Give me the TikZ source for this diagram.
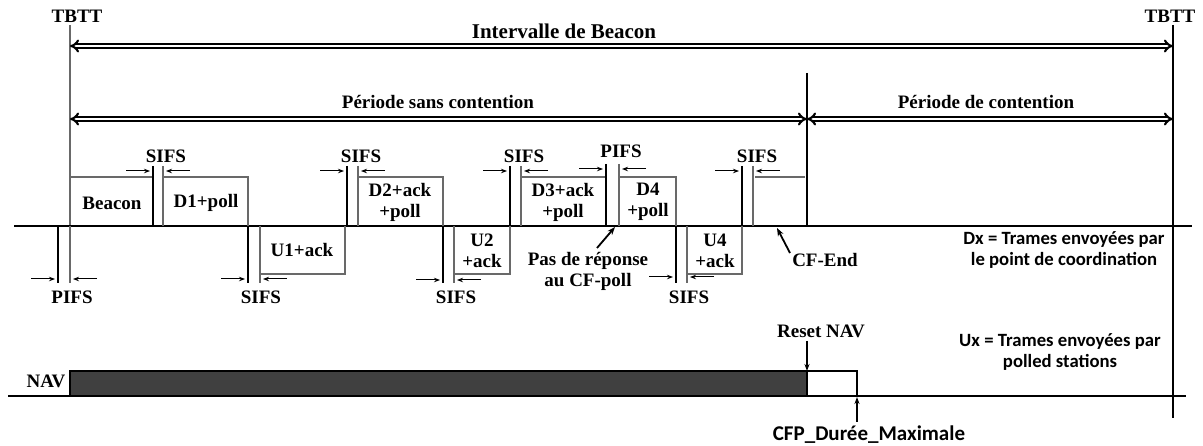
\documentclass[tikz,border=0pt]{standalone}
\usepackage{fontspec}
\setmainfont{Liberation Serif}
\newfontfamily\calib{Carlito}
\usetikzlibrary{arrows.meta}
\definecolor{boxgray}{RGB}{105,105,105}
\definecolor{navfill}{RGB}{64,64,64}
\begin{document}
\begin{tikzpicture}[x=1pt,y=-1pt,
  lbl/.style={font=\fontsize{19}{21}\selectfont\bfseries, inner sep=0pt, align=center},
  biglbl/.style={font=\fontsize{21}{24}\selectfont\bfseries, inner sep=0pt, align=center},
  slbl/.style={font=\fontsize{18.7}{21}\calib\bfseries, inner sep=0pt, align=center},
  framebox/.style={draw=boxgray, line width=1.2pt},
  mkline/.style={draw=black, line width=1.2pt},
  axisline/.style={draw=black, line width=1.2pt},
  dbl/.style={double, double distance=2pt, line width=2.1pt, {Implies}-{Implies}},
  sarr/.style={-{Stealth[length=6pt,width=4.5pt]}, line width=1pt},
  bigarr/.style={-{Stealth[length=8pt,width=6pt]}, line width=1.8pt},
  navarr/.style={-{Stealth[length=7pt,width=5pt]}, line width=1.3pt}
]
\useasboundingbox (0,0) rectangle (1203,446);

% vertical reference lines
\draw[draw=boxgray, line width=1.2pt] (70,25) -- (70,283);
\draw[axisline] (1173,25) -- (1173,418);
\draw[axisline] (807,73) -- (807,226);

% top labels and interval arrows
\node[lbl] (tbttl) at (77,16) {TBTT};
\node[lbl] (tbttr) at (1170,16) {TBTT};
\node[biglbl] (ib) at (564,31) {Intervalle de Beacon};
\coordinate (ibL) at (70,46);
\coordinate (ibR) at (1173,46);
\draw[dbl] (ibL) -- (ibR);
\node[lbl] (psc) at (438,102) {Période sans contention};
\node[lbl] (pdc) at (986,102) {Période de contention};
\coordinate (pL) at (70,119);
\coordinate (pM) at (807,119);
\coordinate (pR) at (1173,119);
\draw[dbl] (pL) -- (pM);
\draw[dbl] (pM) -- (pR);

% main time line
\draw[axisline] (14,226) -- (1192,226);

% frames above the line
\draw[framebox] (70,177) -- (153,177);
\draw[framebox] (163,226) -- (163,177) -- (248,177) -- (248,226);
\draw[framebox] (358,226) -- (358,177) -- (443,177) -- (443,226);
\draw[framebox] (521,226) -- (521,177) -- (606,177) -- (606,226);
\draw[framebox] (619,226) -- (619,177) -- (676,177) -- (676,226);
\draw[framebox] (755,177) -- (805,177);
% frames below the line
\draw[framebox] (260,226) -- (260,274) -- (345,274) -- (345,226);
\draw[framebox] (454,226) -- (454,274) -- (510,274) -- (510,226);
\draw[framebox] (687,226) -- (687,274) -- (742,274) -- (742,226);

% frame labels
\node[lbl] (beacon) at (112,203) {Beacon};
\node[lbl] (d1) at (206,203) {D1+poll};
\node[lbl] (d2) at (400,202) {D2+ack\\+poll};
\node[lbl] (d3) at (563,202) {D3+ack\\+poll};
\node[lbl] (d4) at (648,202) {D4\\+poll};
\node[lbl] (u1) at (302,250) {U1+ack};
\node[lbl] (u2) at (482,251) {U2\\+ack};
\node[lbl] (u4) at (715,251) {U4\\+ack};

% interframe spaces above the line: a/b/top/arrow y
\foreach \a/\b/\yt/\ya in {153/163/166/171, 347/358/166/171, 510/521/166/171, 606/619/164/169, 742/753/166/171}{
  \draw[mkline] (\a,\yt) -- (\a,226);
  \draw[framebox] (\b,\yt) -- (\b,226);
  \draw[sarr] (\a-27,\ya) -- (\a-3,\ya);
  \draw[sarr] (\b+27,\ya) -- (\b+3,\ya);
}
% interframe spaces below the line
\foreach \a/\b/\yb/\ya in {58/70/283/279, 248/260/283/279, 443/454/283/280, 676/687/283/277}{
  \draw[mkline] (\a,226) -- (\a,\yb);
  \draw[framebox] (\b,226) -- (\b,\yb);
  \draw[sarr] (\a-27,\ya) -- (\a-3,\ya);
  \draw[sarr] (\b+27,\ya) -- (\b+3,\ya);
}

\node[lbl] (s1) at (166,156) {SIFS};
\node[lbl] (s3) at (361,156) {SIFS};
\node[lbl] (s5) at (524,156) {SIFS};
\node[lbl] (p2) at (621,151) {PIFS};
\node[lbl] (s7) at (757,156) {SIFS};
\node[lbl] (p1) at (72,297) {PIFS};
\node[lbl] (s2) at (261,297) {SIFS};
\node[lbl] (s4) at (456,297) {SIFS};
\node[lbl] (s6) at (689,297) {SIFS};

% annotations
\node[lbl] (pas) at (588,271) {Pas de réponse\\au CF-poll};
\coordinate (pasT) at (597,248);
\coordinate (pasH) at (615,227);
\draw[bigarr] (pasT) -- (pasH);
\node[lbl] (cfend) at (825,260) {CF-End};
\coordinate (cfT) at (790,253);
\coordinate (cfH) at (777,228);
\draw[bigarr] (cfT) -- (cfH);

\node[slbl] (dx) at (1064,250) {Dx = Trames envoyées par\\le point de coordination};
\node[slbl] (ux) at (1060,352) {Ux = Trames envoyées par\\polled stations};

% NAV
\draw[axisline] (8,396) -- (1186,396);
\node[lbl] (navl) at (46,381) {NAV};
\draw[fill=navfill, draw=black, line width=1.8pt] (70,371) rectangle (807,396);
\draw[fill=white, draw=black, line width=1.8pt] (807,371) rectangle (857,396);
\node[lbl] (reset) at (821,331) {Reset NAV};
\coordinate (rsT) at (807,341);
\coordinate (rsH) at (807,371);
\draw[navarr] (rsT) -- (rsH);
\node[font=\fontsize{21}{24}\calib\bfseries, inner sep=0pt] (cfp) at (869,435) {CFP\_Durée\_Maximale};
\coordinate (cfpT) at (857,422);
\coordinate (cfpH) at (857,397);
\draw[navarr] (cfpT) -- (cfpH);
\end{tikzpicture}
\end{document}
